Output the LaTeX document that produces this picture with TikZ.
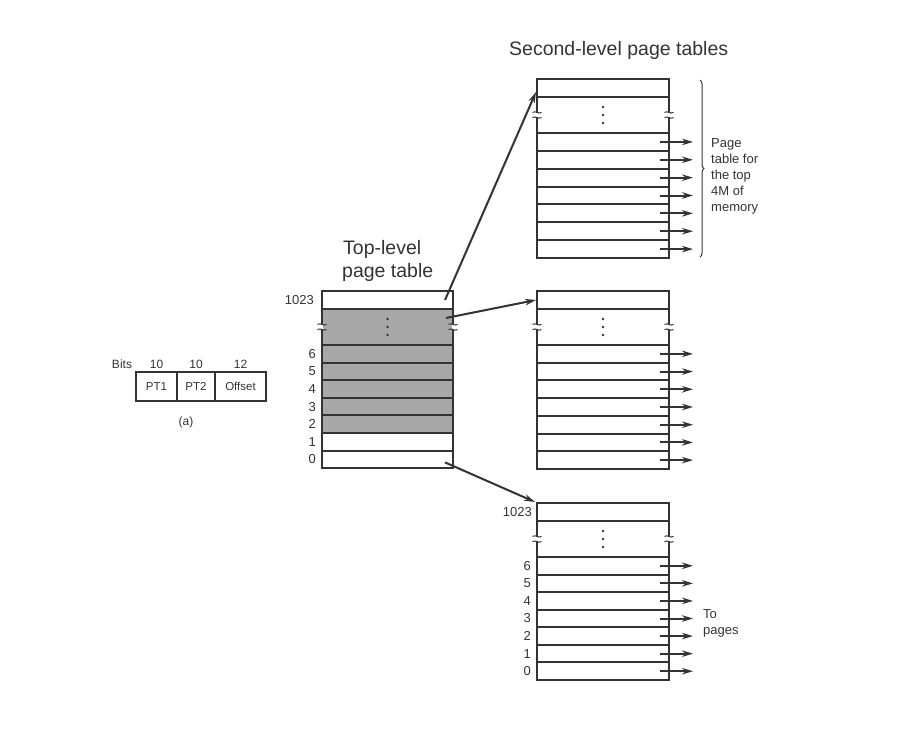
\documentclass[tikz,border=0pt]{standalone}
\usepackage{fontspec}
\setmainfont{Liberation Sans}
\usetikzlibrary{arrows.meta,decorations.pathreplacing}
\definecolor{ink}{HTML}{333333}
\definecolor{shade}{HTML}{A8A8A8}
\newcommand\brkmark[1]{%
  \fill[white] ([xshift=-1.4pt,yshift=-2.4pt]#1) rectangle ([xshift=1.4pt,yshift=2.4pt]#1);
  \draw[ink,line width=1pt] ([xshift=-4.5pt,yshift=2.6pt]#1) .. controls ([xshift=-1pt,yshift=4.8pt]#1) and ([xshift=1pt,yshift=0.4pt]#1) .. ([xshift=4.5pt,yshift=2.6pt]#1);
  \draw[ink,line width=1pt] ([xshift=-4.5pt,yshift=-2.6pt]#1) .. controls ([xshift=-1pt,yshift=-0.4pt]#1) and ([xshift=1pt,yshift=-4.8pt]#1) .. ([xshift=4.5pt,yshift=-2.6pt]#1);
}
\newcommand\vdotsmark[1]{%
  \foreach \d in {-8,0,8} \fill[ink] ([yshift=\d pt]#1) circle (1.4pt);
}
% #1 name, #2 x, #3 top y, #4 row height, #5 fill of rows
\newcommand\drawtab[5]{%
  \node[row, minimum height=18pt] (#1top) at (#2,#3) {};
  \node[row, minimum height=36pt, fill=#5] (#1dots) at (#2,#3+18) {};
  \foreach \i in {0,...,6} {
    \pgfmathsetmacro\n{int(6-\i)}
    \node[row, minimum height=#4pt] (#1\n) at (#2,{#3+54+#4*\i}) {};
  }
  \vdotsmark{#1dots.center}
  \brkmark{#1dots.west}
  \brkmark{#1dots.east}
}
\begin{document}
\begin{tikzpicture}[x=1pt,y=-1pt,
  row/.style={draw=ink, line width=2pt, minimum width=132pt, inner sep=0pt, outer sep=0pt, anchor=north west},
  lbl/.style={text=ink, font=\fontsize{13}{15}\selectfont, inner sep=0pt},
  small/.style={text=ink, font=\fontsize{12}{14}\selectfont, inner sep=0pt},
  big/.style={text=ink, font=\fontsize{19.5}{23}\selectfont, inner sep=0pt},
  ptr/.style={draw=ink, line width=2pt, -{Stealth[length=11pt,width=6.5pt]}},
  cell/.style={draw=ink, line width=1.6pt, minimum height=29pt, inner sep=0pt, outer sep=0pt, anchor=north west, text=ink, font=\fontsize{11.5}{13}\selectfont},
]
\useasboundingbox (0,0) rectangle (923,729);

% ---------- titles ----------
\node[big, anchor=base west] (title2) at (509,55) {Second-level page tables};
\node[big, anchor=base west] (title1a) at (343,254) {Top-level};
\node[big, anchor=base west] (title1b) at (342,277) {page table};

% ---------- top-level table ----------
\node[row, minimum width=131pt, minimum height=18pt] (Ttop) at (322,291) {};
\node[row, minimum width=131pt, minimum height=36pt, fill=shade] (Tdots) at (322,309) {};
\foreach \i/\n in {0/6,1/5,2/4,3/3,4/2}
  \node[row, minimum width=131pt, minimum height=17.6pt, fill=shade] (T\n) at (322,{345+17.6*\i}) {};
\foreach \i/\n in {5/1,6/0}
  \node[row, minimum width=131pt, minimum height=17.6pt] (T\n) at (322,{345+17.6*\i}) {};
\vdotsmark{Tdots.center}
\brkmark{Tdots.west}
\brkmark{Tdots.east}
\node[lbl, anchor=east] (Tl1023) at ([xshift=-8pt]Ttop.west) {1023};
\foreach \n in {0,...,6}
  \node[lbl, anchor=east] (Tl\n) at ([xshift=-6pt]T\n.west) {\n};

% ---------- second-level tables ----------
\drawtab{A}{537}{79}{17.86}{white}
\drawtab{B}{537}{291}{17.71}{white}
\drawtab{C}{537}{503}{17.57}{white}

\foreach \n in {0,...,6} {
  \draw[ptr] ([xshift=-9pt]A\n.east) -- ++(33pt,0);
  \draw[ptr] ([xshift=-9pt]B\n.east) -- ++(33pt,0);
  \draw[ptr] ([xshift=-9pt]C\n.east) -- ++(33pt,0);
  \node[lbl, anchor=east] (Cl\n) at ([xshift=-6pt]C\n.west) {\n};
}
\node[lbl, anchor=east] (Cl1023) at ([xshift=-5pt]Ctop.west) {1023};

% ---------- pointers from top-level table ----------
\draw[ptr] ([xshift=-8pt]Ttop.east) -- ([xshift=-1pt,yshift=-13pt]Atop.north west);
\draw[ptr] ([xshift=-7pt,yshift=-9pt]Tdots.north east) -- ([xshift=-1pt]Btop.west);
\draw[ptr] ([xshift=-8pt,yshift=-3pt]T0.east) -- ([xshift=-2pt,yshift=1pt]Ctop.north west);

% ---------- brace and notes ----------
\draw[ink, line width=1pt, decorate, decoration={brace, amplitude=4pt}] (700,80) -- (700,257);
\foreach \t/\yy [count=\k] in {Page/147, table for/163, the top/179, 4M of/195, memory/211}
  \node[lbl, anchor=base west] (note\k) at (711,\yy) {\t};
\node[lbl, anchor=base west] (to1) at (703,618) {To};
\node[lbl, anchor=base west] (to2) at (703,634) {pages};

% ---------- address format (a) ----------
\node[cell, minimum width=41pt] (pt1) at (136,372) {PT1};
\node[cell, minimum width=38pt] (pt2) at (177,372) {PT2};
\node[cell, minimum width=51pt] (off) at (215,372) {Offset};
\node[small, anchor=base] (bits) at (122,368) {Bits};
\node[small, anchor=base] (b1) at (pt1.north |- bits.base) {10};
\node[small, anchor=base] (b2) at (pt2.north |- bits.base) {10};
\node[small, anchor=base] (b3) at (off.north |- bits.base) {12};
\node[small] (cap) at (186,422) {(a)};
\end{tikzpicture}
\end{document}
